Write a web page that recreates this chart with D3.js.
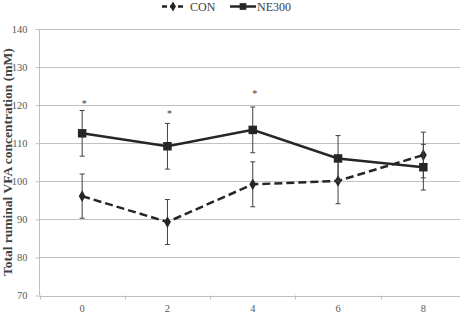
<!DOCTYPE html>
<html><head><meta charset="utf-8">
<script src="https://cdn.jsdelivr.net/npm/d3@7"></script>
<style>body{margin:0;background:#fff}svg{display:block}text{font-family:"Liberation Serif","Times New Roman",serif}</style>
</head><body><svg id="c" width="460" height="318"></svg>
<script>
const categories = ["0","2","4","6","8"];
const conValues = [96.1, 89.3, 99.2, 100.1, 106.9];
const conErrors = [5.8, 5.9, 5.9, 6.0, 6.0];
const neValues = [112.6, 109.2, 113.5, 106.0, 103.7];
const neErrors = [6.0, 6.0, 6.0, 6.0, 6.0];
const starCats = ["0","2","4"];
const starValues = [120.9, 118.3, 123.4];
const yTicks = [70, 80, 90, 100, 110, 120, 130, 140];

const svg = d3.select("#c");
const x = d3.scaleBand().domain(categories).range([39.5, 466]).padding(0);
const y = d3.scaleLinear().domain([70, 140]).range([295.5, 29]);
const cx = d => x(d) + x.bandwidth()/2;

// gridlines
svg.append("g").selectAll("line").data(yTicks.slice(1)).join("line")
  .attr("x1", 39.5).attr("x2", 460).attr("y1", d => Math.round(y(d))+0.5).attr("y2", d => Math.round(y(d))+0.5)
  .attr("stroke", "#c0c0c0").attr("stroke-width", 1);

// y axis
const ya = svg.append("g").attr("transform", "translate(39.5,0)")
  .call(d3.axisLeft(y).tickValues(yTicks).tickSize(4).tickPadding(8).tickFormat(d3.format("d")));
ya.select(".domain").attr("stroke", "#bfbfbf").attr("d", `M0,${y(140)}V${y(70)}`);
ya.selectAll(".tick line").attr("stroke", "#bfbfbf");
ya.selectAll("text").attr("font-size", 10.5).attr("fill", "#595959").attr("font-family", "Liberation Serif");

// x axis
const xa = svg.append("g").attr("transform", `translate(0,${Math.round(y(70))+0.5})`)
  .call(d3.axisBottom(x).tickSize(0).tickPadding(8));
xa.select(".domain").attr("stroke", "#bfbfbf").attr("d", "M39.5,0H460");
xa.selectAll("text").attr("font-size", 10.5).attr("fill", "#595959").attr("font-family", "Liberation Serif");
svg.append("g").selectAll("line").data(categories).join("line")
  .attr("x1", d => Math.round(x(d))+0.5).attr("x2", d => Math.round(x(d))+0.5)
  .attr("y1", y(70)).attr("y2", y(70)+4).attr("stroke", "#bfbfbf");

// y label
svg.append("text").attr("transform", `translate(12,${(y(70)+y(140))/2}) rotate(-90)`)
  .attr("text-anchor", "middle").attr("font-size", 13.5).attr("font-weight", "bold").attr("fill", "#404040")
  .text("Total ruminal VFA concentration (mM)");

const col = "#262626";
function series(vals, errs, dashed, marker) {
  const g = svg.append("g");
  vals.forEach((v, i) => {
    const px = cx(categories[i]);
    const yt = y(v + errs[i]), yb = y(v - errs[i]);
    g.append("line").attr("x1", px).attr("x2", px).attr("y1", yt).attr("y2", yb).attr("stroke", "#404040").attr("stroke-width", 1);
    [yt, yb].forEach(yy => g.append("line").attr("x1", px-2.5).attr("x2", px+2.5).attr("y1", yy).attr("y2", yy).attr("stroke", "#404040").attr("stroke-width", 1));
  });
  const line = d3.line().x((d, i) => cx(categories[i])).y(d => y(d));
  g.append("path").attr("d", line(vals)).attr("fill", "none").attr("stroke", col)
    .attr("stroke-width", 2.5).attr("stroke-dasharray", dashed ? "8,4" : null);
  const sym = d3.symbol().type(marker === "square" ? d3.symbolSquare : d3.symbolDiamond).size(marker === "square" ? 72 : 40);
  g.selectAll(".m").data(vals).join("path")
    .attr("transform", (d, i) => `translate(${cx(categories[i])},${y(d)})`)
    .attr("d", sym).attr("fill", col);
}
series(conValues, conErrors, true, "diamond");
series(neValues, neErrors, false, "square");

// asterisks
svg.append("g").selectAll("text").data(starValues).join("text")
  .attr("x", (d, i) => cx(starCats[i]) + 2).attr("y", d => y(d) + 5)
  .attr("text-anchor", "middle").attr("font-size", 10).attr("fill", "#404040").text("*");

// legend
const ly = 6.5;
const lg = svg.append("g");
lg.append("line").attr("x1", 162).attr("x2", 185).attr("y1", ly).attr("y2", ly).attr("stroke", col).attr("stroke-width", 2.5).attr("stroke-dasharray", "5,3");
lg.append("path").attr("transform", `translate(173,${ly})`).attr("d", d3.symbol().type(d3.symbolDiamond).size(30)).attr("fill", col);
lg.append("text").attr("x", 190).attr("y", ly + 4).attr("font-size", 12).attr("fill", "#404040").text("CON");
lg.append("line").attr("x1", 230).attr("x2", 256).attr("y1", ly).attr("y2", ly).attr("stroke", col).attr("stroke-width", 2.5);
lg.append("path").attr("transform", `translate(243,${ly})`).attr("d", d3.symbol().type(d3.symbolSquare).size(45)).attr("fill", col);
lg.append("text").attr("x", 257).attr("y", ly + 4).attr("font-size", 12).attr("fill", "#404040").text("NE300");
</script></body></html>
